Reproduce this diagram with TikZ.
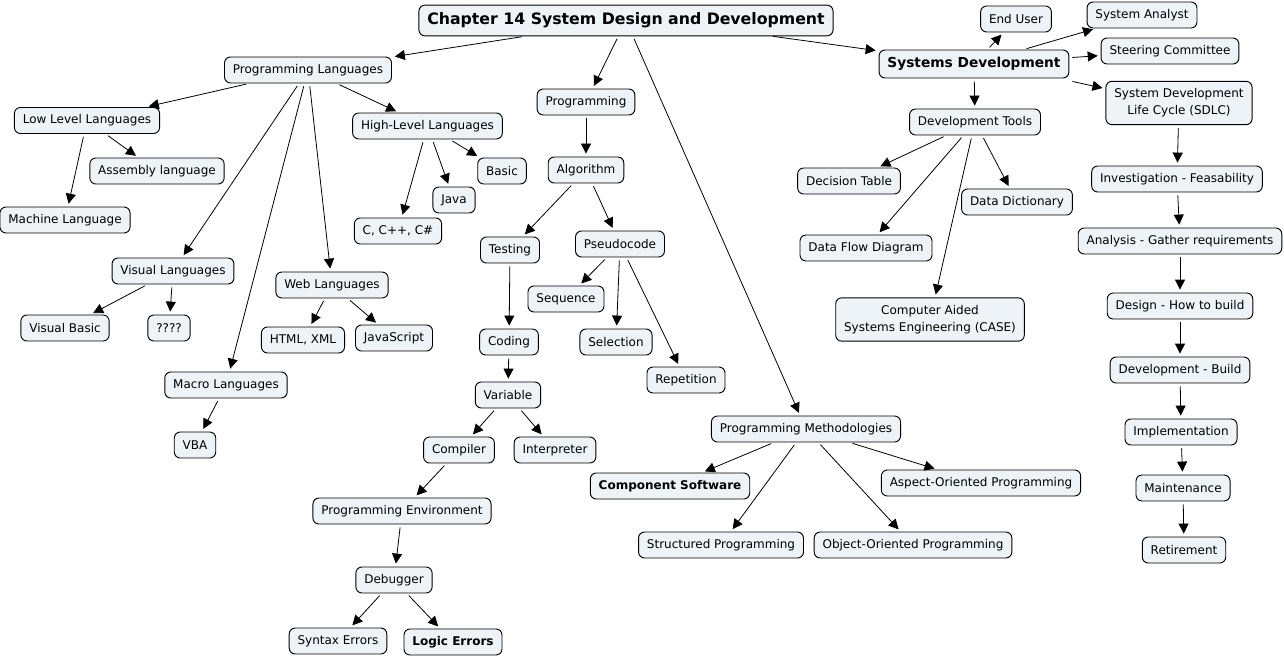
\documentclass[tikz,border=0pt]{standalone}
\usepackage{fontspec}
\setmainfont{DejaVu Sans}
\usetikzlibrary{arrows.meta}
\definecolor{boxfill}{RGB}{237,243,246}
\tikzset{
  box/.style={draw=black, line width=0.7pt, rounded corners=4.5pt, fill=boxfill,
    font=\fontsize{9}{11}\selectfont, inner xsep=6.3pt, inner ysep=3pt,
    minimum height=19.5pt, align=center},
  boldbox/.style={box, font=\fontsize{9}{11}\selectfont\bfseries},
  twoline/.style={box, font=\fontsize{9}{12.75}\selectfont, minimum height=32.5pt},
  conn/.style={-{Triangle[length=7.5pt,width=7.5pt]}, line width=0.6pt,
    shorten <=2.2pt, shorten >=2.2pt},
}
\begin{document}
\begin{tikzpicture}[x=0.75pt,y=-0.75pt]
\useasboundingbox (0,0) rectangle (1284,659);
% nodes
\node[box, font=\fontsize{11.8}{14}\selectfont\bfseries, minimum height=23pt] (title) at (626,20.5) {Chapter 14 System Design and Development};
\node[box] (pl) at (308,70) {Programming Languages};
\node[box] (lll) at (87,120.5) {Low Level Languages};
\node[box] (asm) at (157,171) {Assembly language};
\node[box] (mach) at (65,220) {Machine Language};
\node[box] (hll) at (427.5,126) {High-Level Languages};
\node[box] (c) at (398,231) {C, C++, C\#};
\node[box] (java) at (454,200) {Java};
\node[box] (basic) at (502,171) {Basic};
\node[box] (prog) at (586,102) {Programming};
\node[box] (alg) at (586,170) {Algorithm};
\node[box] (test) at (510,250) {Testing};
\node[box] (pseudo) at (620,244) {Pseudocode};
\node[box] (seq) at (566,299) {Sequence};
\node[box] (sel) at (616,342) {Selection};
\node[box] (rep) at (686,380) {Repetition};
\node[box] (cod) at (509,342) {Coding};
\node[box] (var) at (508,395) {Variable};
\node[box] (comp) at (459,450) {Compiler};
\node[box] (interp) at (555,450) {Interpreter};
\node[box] (web) at (332,285) {Web Languages};
\node[box] (html) at (303,340) {HTML, XML};
\node[box] (js) at (394,338) {JavaScript};
\node[box] (vis) at (173,271) {Visual Languages};
\node[box] (vb) at (65,328) {Visual Basic};
\node[box] (qq) at (169,328) {????};
\node[box] (macro) at (226,385) {Macro Languages};
\node[box] (vba) at (195,445) {VBA};
\node[box] (penv) at (402,511) {Programming Environment};
\node[box] (dbg) at (394,580) {Debugger};
\node[box] (syn) at (338,641) {Syntax Errors};
\node[boldbox] (logic) at (453,642) {Logic Errors};
\node[boldbox] (cs) at (670,486) {Component Software};
\node[box] (pm) at (806,429) {Programming Methodologies};
\node[box] (aop) at (981,483) {Aspect-Oriented Programming};
\node[box] (sp) at (721,545) {Structured Programming};
\node[box] (oop) at (913,545) {Object-Oriented Programming};
\node[box, font=\fontsize{10.3}{12}\selectfont\bfseries, minimum height=21pt] (sd) at (974,64) {Systems Development};
\node[box] (eu) at (1016,19) {End User};
\node[box] (sa) at (1142,15) {System Analyst};
\node[box] (sc) at (1170,51) {Steering Committee};
\node[twoline] (sdlc) at (1179,103) {System Development\\Life Cycle (SDLC)};
\node[box] (dt) at (975,122) {Development Tools};
\node[box] (dtab) at (849,181) {Decision Table};
\node[box] (dd) at (1017,202) {Data Dictionary};
\node[box] (inv) at (1177,179) {Investigation - Feasability};
\node[box] (ana) at (1180,241) {Analysis - Gather requirements};
\node[box] (dfd) at (866,248) {Data Flow Diagram};
\node[twoline] (case) at (930,319.5) {Computer Aided\\Systems Engineering (CASE)};
\node[box] (des) at (1180,306) {Design - How to build};
\node[box] (dev) at (1180,370) {Development - Build};
\node[box] (impl) at (1181,432) {Implementation};
\node[box] (maint) at (1183,488) {Maintenance};
\node[box] (ret) at (1184,550) {Retirement};
% connectors
\foreach \a/\b in {title/pl, title/prog, title/pm,
  pl/lll, pl/vis, pl/macro, pl/web, pl/hll,
  lll/asm, lll/mach, hll/c, hll/java, hll/basic,
  prog/alg, alg/test, alg/pseudo, test/cod,
  pseudo/seq, pseudo/sel, pseudo/rep, cod/var,
  var/comp, var/interp, comp/penv, penv/dbg, dbg/syn, dbg/logic,
  vis/vb, vis/qq, web/html, web/js, macro/vba,
  pm/cs, pm/sp, pm/oop, pm/aop,
  sd/eu, sd/sa, sd/sc, sd/dt,
  dt/dtab, dt/dfd, dt/case, dt/dd,
  sdlc/inv, inv/ana, ana/des, des/dev, dev/impl, impl/maint, maint/ret}
  \draw[conn] (\a) -- (\b);
\draw[conn, shorten <=0pt] ([xshift=110pt]title.south) -- (sd);
\draw[conn, shorten <=0pt, shorten >=0pt] ([shift={(3,3)}]sd.south east) -- ([shift={(-3,-15)}]sdlc.west);
\end{tikzpicture}
\end{document}
